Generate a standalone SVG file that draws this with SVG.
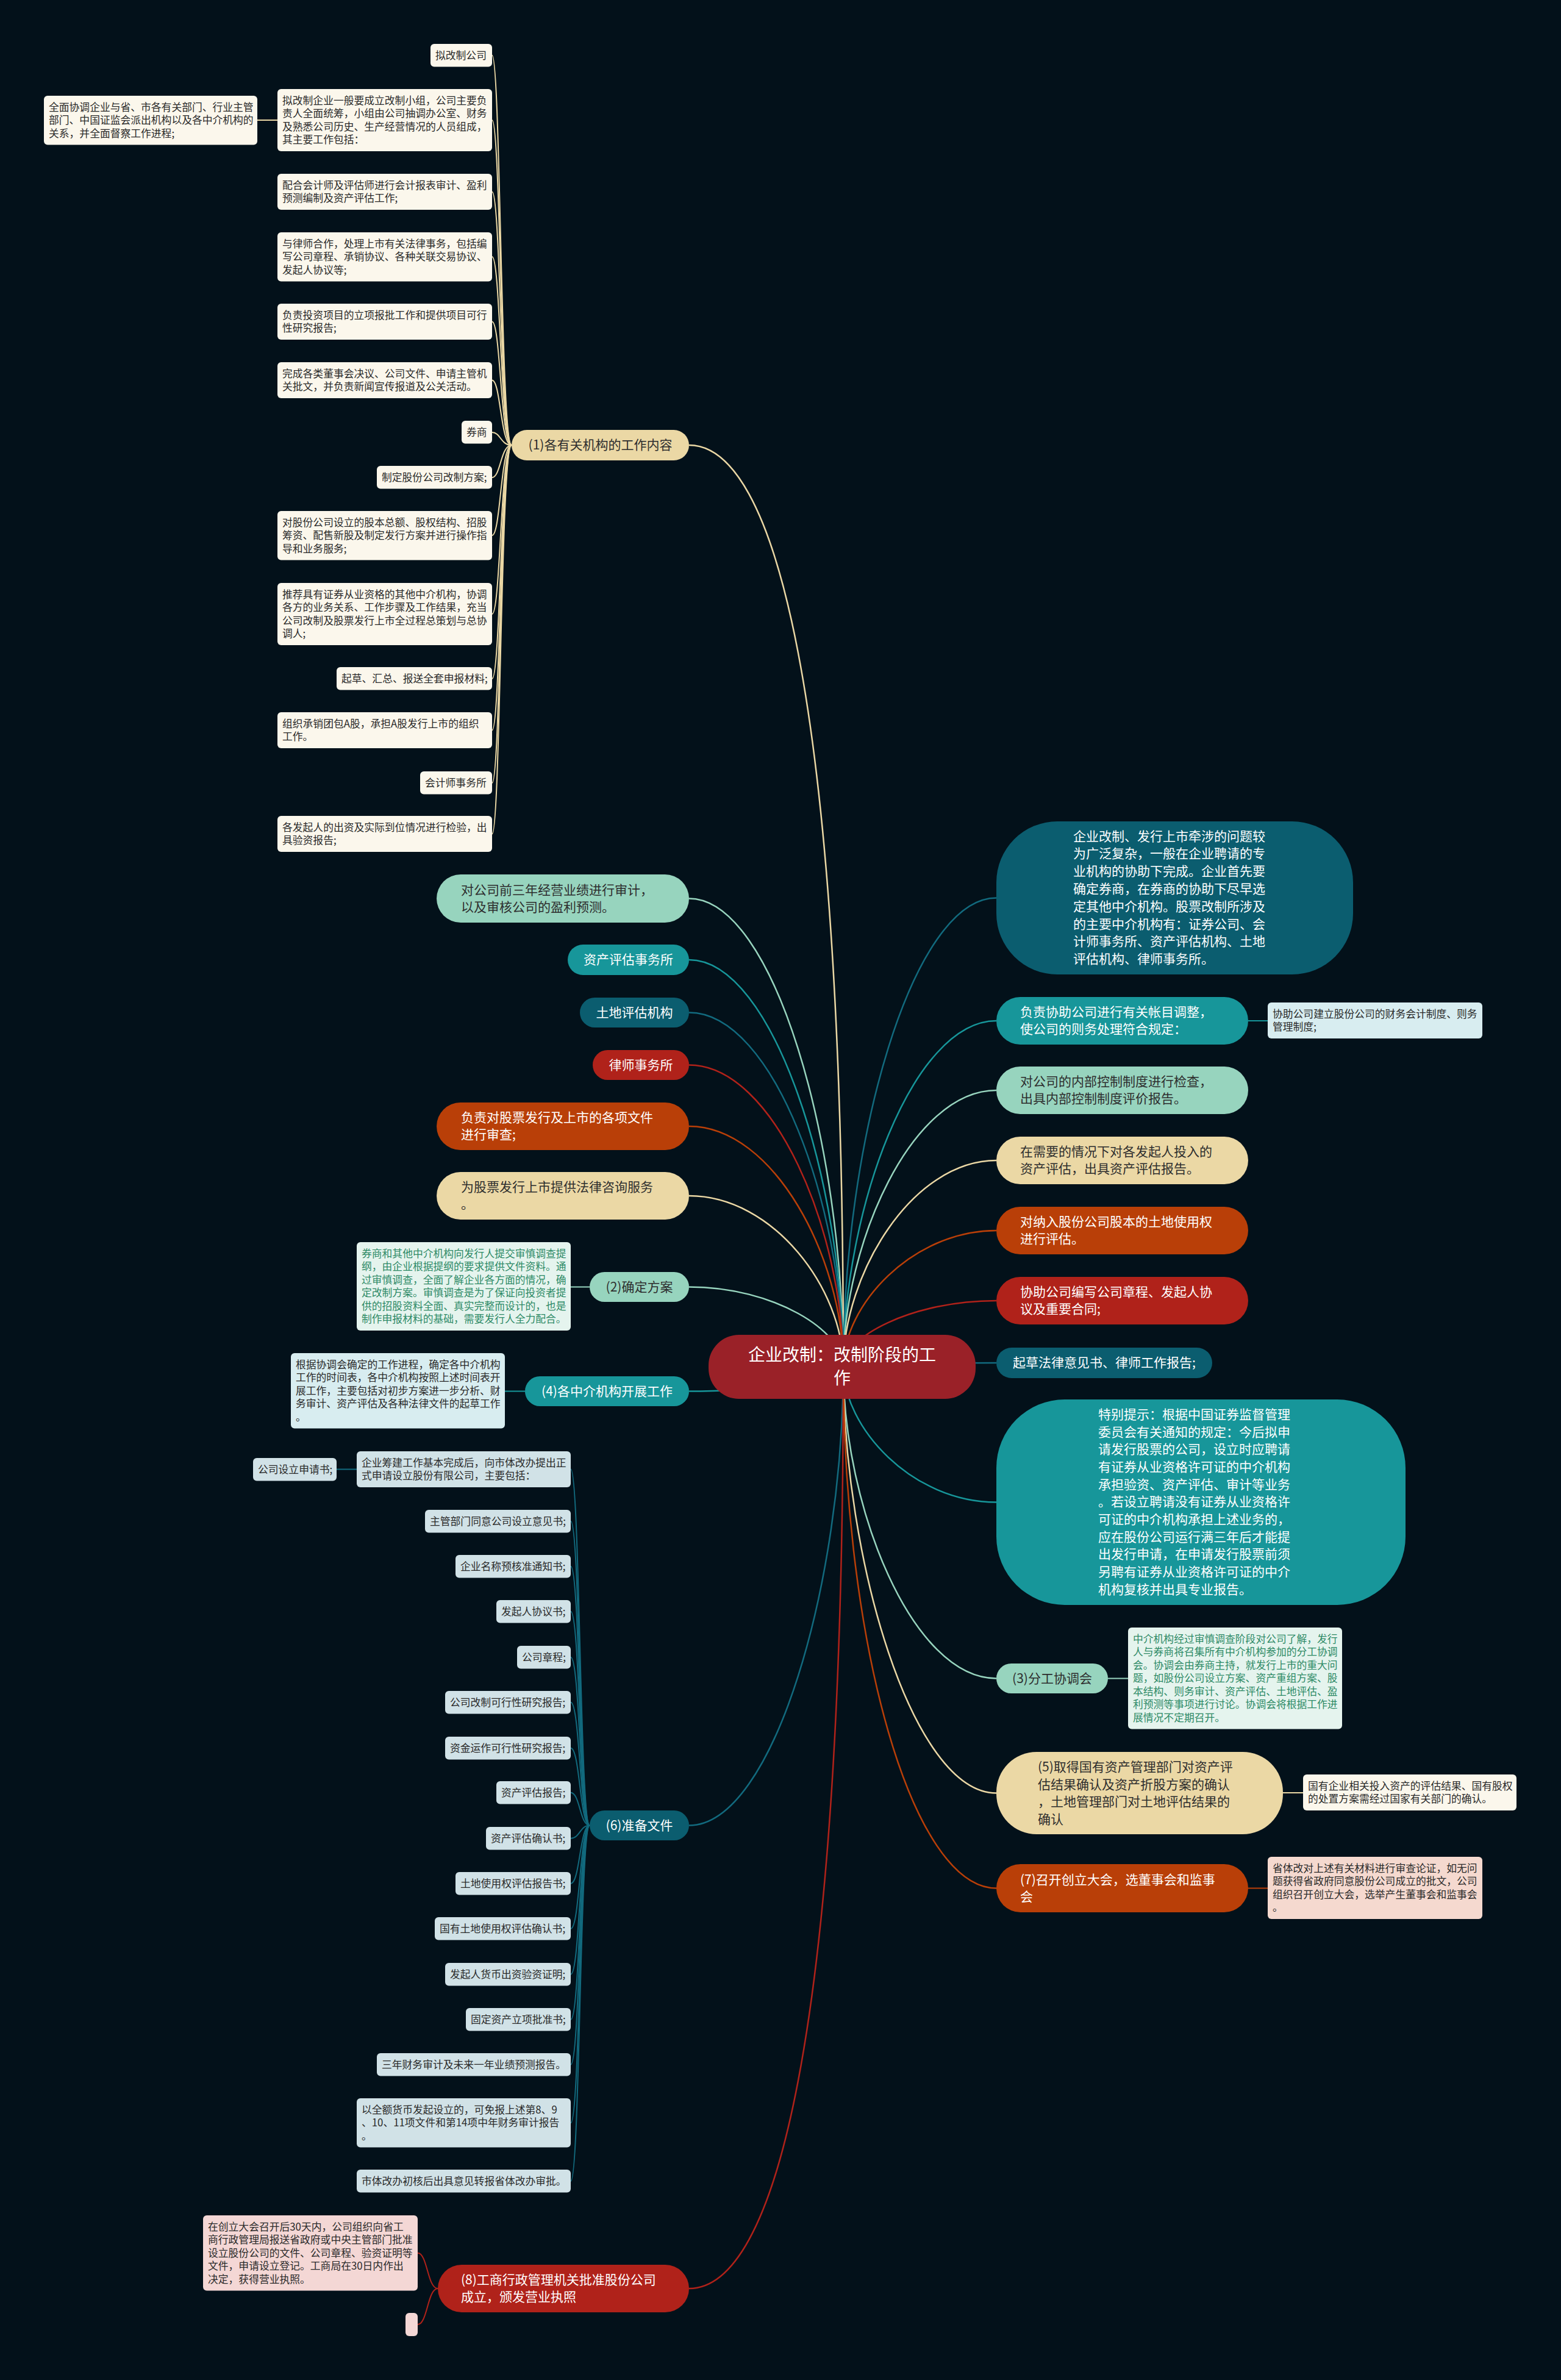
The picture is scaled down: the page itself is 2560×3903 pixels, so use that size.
<svg xmlns="http://www.w3.org/2000/svg" width="2560" height="3903" viewBox="0 0 2560 3903">
<style>
text{font-family:"Noto Sans CJK SC","Noto Sans",sans-serif;}
.lt{font-size:16.8px;fill:#2a2a2a;}
.gt{font-size:16.8px;fill:#2d8a66;}
.pd{font-size:21px;fill:#2e2e2e;}
.pw{font-size:21px;fill:#ffffff;}
.rt{font-size:28px;fill:#ffffff;}
.c{fill:none;stroke-width:2.5;}
.l{fill:none;stroke-width:2;}
.cream{fill:#fbf7ec;}
.lblue{fill:#d1e2e7;}
.lblue2{fill:#d8edf0;}
.lmint{fill:#e5f4ee;}
.pink{fill:#f5d9cf;}
.pink2{fill:#f4d7d5;}
.beige{fill:#ebd8a5;}
.mint{fill:#97d4be;}
.teal{fill:#17969a;}
.dteal{fill:#0b5d6f;}
.red{fill:#b0221a;}
.orng{fill:#b93f08;}
</style>
<rect x="0" y="0" width="2560" height="3903" fill="#03111a"/>

<g id="connectors">
<!-- root to left children -->
<path class="c" stroke="#ebd8a5" d="M1383 2241 C1383 1130 1269 730 1130 730"/>
<path class="c" stroke="#97d4be" d="M1383 2241 C1383 1873.5 1269 1473.5 1130 1473.5"/>
<path class="c" stroke="#17969a" d="M1383 2241 C1383 1941 1269 1574 1130 1574"/>
<path class="c" stroke="#126a7e" d="M1383 2241 C1383 1980 1269 1660.5 1130 1660.5"/>
<path class="c" stroke="#b0221a" d="M1383 2241 C1383 2018.5 1269 1746.5 1130 1746.5"/>
<path class="c" stroke="#b93f08" d="M1383 2241 C1383 2063.7 1269 1847 1130 1847"/>
<path class="c" stroke="#ebd8a5" d="M1383 2241 C1383 2115 1269 1961 1130 1961"/>
<path class="c" stroke="#97d4be" d="M1383 2241 C1383 2182.3 1269 2110.5 1130 2110.5"/>
<path class="c" stroke="#17969a" d="M1383 2241 C1383 2259.2 1269 2281.5 1130 2281.5"/>
<path class="c" stroke="#126a7e" d="M1383 2241 C1383 2593.5 1269 2993.5 1130 2993.5"/>
<path class="c" stroke="#b0221a" d="M1383 2241 C1383 3353 1269 3753 1130 3753"/>
<!-- root to right children -->
<path class="c" stroke="#126a7e" d="M1383 2241 C1383 1872.5 1496 1472.5 1634 1472.5"/>
<path class="c" stroke="#17969a" d="M1383 2241 C1383 1985.9 1496 1674 1634 1674"/>
<path class="c" stroke="#97d4be" d="M1383 2241 C1383 2037.2 1496 1788 1634 1788"/>
<path class="c" stroke="#ebd8a5" d="M1383 2241 C1383 2088.9 1496 1903 1634 1903"/>
<path class="c" stroke="#b93f08" d="M1383 2241 C1383 2140.7 1496 2018 1634 2018"/>
<path class="c" stroke="#b0221a" d="M1383 2241 C1383 2192.4 1496 2133 1634 2133"/>
<path class="c" stroke="#126a7e" d="M1383 2241 C1383 2238.3 1496 2235 1634 2235"/>
<path class="c" stroke="#17969a" d="M1383 2241 C1383 2341.1 1496 2463.5 1634 2463.5"/>
<path class="c" stroke="#97d4be" d="M1383 2241 C1383 2471.2 1496 2752.5 1634 2752.5"/>
<path class="c" stroke="#ebd8a5" d="M1383 2241 C1383 2555.8 1496 2940.5 1634 2940.5"/>
<path class="c" stroke="#b93f08" d="M1383 2241 C1383 2696.5 1496 3096.5 1634 3096.5"/>

<!-- (1) leaves -->
<g stroke="#ebd8a5">
<path class="l" d="M839 730 C821 730 821 90.75 807 90.75"/>
<path class="l" d="M839 730 C821 730 821 197 807 197"/>
<path class="l" d="M839 730 C821 730 821 314.5 807 314.5"/>
<path class="l" d="M839 730 C821 730 821 421 807 421"/>
<path class="l" d="M839 730 C821 730 821 527.5 807 527.5"/>
<path class="l" d="M839 730 C821 730 821 623.5 807 623.5"/>
<path class="l" d="M839 730 C821 730 821 709 807 709"/>
<path class="l" d="M839 730 C821 730 821 783 807 783"/>
<path class="l" d="M839 730 C821 730 821 878 807 878"/>
<path class="l" d="M839 730 C821 730 821 1007 807 1007"/>
<path class="l" d="M839 730 C821 730 821 1113 807 1113"/>
<path class="l" d="M839 730 C821 730 821 1197.5 807 1197.5"/>
<path class="l" d="M839 730 C821 730 821 1284 807 1284"/>
<path class="l" d="M839 730 C821 730 821 1367.5 807 1367.5"/>
<path class="l" d="M455 197 L422 197"/>
</g>
<!-- (6) leaves -->
<g stroke="#126a7e">
<path class="l" d="M967 2993.5 C951 2993.5 951 2409.5 936 2409.5"/>
<path class="l" d="M967 2993.5 C951 2993.5 951 2494.75 936 2494.75"/>
<path class="l" d="M967 2993.5 C951 2993.5 951 2568.75 936 2568.75"/>
<path class="l" d="M967 2993.5 C951 2993.5 951 2642.75 936 2642.75"/>
<path class="l" d="M967 2993.5 C951 2993.5 951 2717.75 936 2717.75"/>
<path class="l" d="M967 2993.5 C951 2993.5 951 2791.75 936 2791.75"/>
<path class="l" d="M967 2993.5 C951 2993.5 951 2866.75 936 2866.75"/>
<path class="l" d="M967 2993.5 C951 2993.5 951 2939.75 936 2939.75"/>
<path class="l" d="M967 2993.5 C951 2993.5 951 3014.75 936 3014.75"/>
<path class="l" d="M967 2993.5 C951 2993.5 951 3088.75 936 3088.75"/>
<path class="l" d="M967 2993.5 C951 2993.5 951 3162.75 936 3162.75"/>
<path class="l" d="M967 2993.5 C951 2993.5 951 3237.75 936 3237.75"/>
<path class="l" d="M967 2993.5 C951 2993.5 951 3311.75 936 3311.75"/>
<path class="l" d="M967 2993.5 C951 2993.5 951 3385.75 936 3385.75"/>
<path class="l" d="M967 2993.5 C951 2993.5 951 3481.25 936 3481.25"/>
<path class="l" d="M967 2993.5 C951 2993.5 951 3576.75 936 3576.75"/>
<path class="l" d="M585 2409.5 L552 2409.5"/>
</g>
<!-- other leaf links -->
<path class="l" stroke="#97d4be" d="M967 2110.5 L936 2110.5"/>
<path class="l" stroke="#17969a" d="M861 2281.5 L828 2281.5"/>
<path class="l" stroke="#b0221a" d="M718 3753 C701 3753 701 3694.75 685 3694.75"/>
<path class="l" stroke="#b0221a" d="M718 3753 C701 3753 701 3812 685 3812"/>
<path class="l" stroke="#17969a" d="M2047 1674 L2079 1674"/>
<path class="l" stroke="#97d4be" d="M1817 2752.5 L1850 2752.5"/>
<path class="l" stroke="#ebd8a5" d="M2104 2940 L2137 2940"/>
<path class="l" stroke="#b93f08" d="M2047 3096.5 L2079 3096.5"/>
</g>

<!-- root -->
<g id="root">
<rect x="1162" y="2189" width="438" height="105" rx="50" fill="#9a2128"/>
<text class="rt" text-anchor="middle"><tspan x="1381" y="2231.8">企业改制：改制阶段的工</tspan><tspan x="1381" y="2269.8">作</tspan></text>
</g>

<!-- (1) branch -->
<g id="n1">
<rect class="beige" x="839" y="705" width="291" height="50" rx="25"/>
<text class="pd" x="984.5" y="737.3" text-anchor="middle">(1)各有关机构的工作内容</text>
</g>
<g id="n1-1"><rect class="cream" x="706" y="72" width="101" height="37.5" rx="6"/><text class="lt" x="714" y="96.5">拟改制公司</text></g>
<g id="n1-2"><rect class="cream" x="455" y="146" width="352" height="102" rx="6"/><text class="lt"><tspan x="463" y="170.5">拟改制企业一般要成立改制小组，公司主要负</tspan><tspan x="463" y="192">责人全面统筹，小组由公司抽调办公室、财务</tspan><tspan x="463" y="213.5">及熟悉公司历史、生产经营情况的人员组成，</tspan><tspan x="463" y="235">其主要工作包括：</tspan></text></g>
<g id="n1-2-1"><rect class="cream" x="72" y="157" width="350" height="80.5" rx="6"/><text class="lt"><tspan x="80" y="181.5">全面协调企业与省、市各有关部门、行业主管</tspan><tspan x="80" y="203">部门、中国证监会派出机构以及各中介机构的</tspan><tspan x="80" y="224.5">关系，并全面督察工作进程;</tspan></text></g>
<g id="n1-3"><rect class="cream" x="455" y="285" width="352" height="59" rx="6"/><text class="lt"><tspan x="463" y="309.5">配合会计师及评估师进行会计报表审计、盈利</tspan><tspan x="463" y="331">预测编制及资产评估工作;</tspan></text></g>
<g id="n1-4"><rect class="cream" x="455" y="381" width="352" height="80.5" rx="6"/><text class="lt"><tspan x="463" y="405.5">与律师合作，处理上市有关法律事务，包括编</tspan><tspan x="463" y="427">写公司章程、承销协议、各种关联交易协议、</tspan><tspan x="463" y="448.5">发起人协议等;</tspan></text></g>
<g id="n1-5"><rect class="cream" x="455" y="498" width="352" height="59" rx="6"/><text class="lt"><tspan x="463" y="522.5">负责投资项目的立项报批工作和提供项目可行</tspan><tspan x="463" y="544">性研究报告;</tspan></text></g>
<g id="n1-6"><rect class="cream" x="455" y="594" width="352" height="59" rx="6"/><text class="lt"><tspan x="463" y="618.5">完成各类董事会决议、公司文件、申请主管机</tspan><tspan x="463" y="640">关批文，并负责新闻宣传报道及公关活动。</tspan></text></g>
<g id="n1-7"><rect class="cream" x="757" y="690" width="50" height="37.5" rx="6"/><text class="lt" x="765" y="714.5">券商</text></g>
<g id="n1-8"><rect class="cream" x="618" y="764" width="189" height="37.5" rx="6"/><text class="lt" x="626" y="788.5">制定股份公司改制方案;</text></g>
<g id="n1-9"><rect class="cream" x="455" y="838" width="352" height="80.5" rx="6"/><text class="lt"><tspan x="463" y="862.5">对股份公司设立的股本总额、股权结构、招股</tspan><tspan x="463" y="884">筹资、配售新股及制定发行方案并进行操作指</tspan><tspan x="463" y="905.5">导和业务服务;</tspan></text></g>
<g id="n1-10"><rect class="cream" x="455" y="956" width="352" height="102" rx="6"/><text class="lt"><tspan x="463" y="980.5">推荐具有证券从业资格的其他中介机构，协调</tspan><tspan x="463" y="1002">各方的业务关系、工作步骤及工作结果，充当</tspan><tspan x="463" y="1023.5">公司改制及股票发行上市全过程总策划与总协</tspan><tspan x="463" y="1045">调人;</tspan></text></g>
<g id="n1-11"><rect class="cream" x="552" y="1094" width="255" height="37.5" rx="6"/><text class="lt" x="560" y="1118.5">起草、汇总、报送全套申报材料;</text></g>
<g id="n1-12"><rect class="cream" x="455" y="1168" width="352" height="59" rx="6"/><text class="lt"><tspan x="463" y="1192.5">组织承销团包A股，承担A股发行上市的组织</tspan><tspan x="463" y="1214">工作。</tspan></text></g>
<g id="n1-13"><rect class="cream" x="689" y="1265" width="118" height="37.5" rx="6"/><text class="lt" x="697" y="1289.5">会计师事务所</text></g>
<g id="n1-14"><rect class="cream" x="455" y="1338" width="352" height="59" rx="6"/><text class="lt"><tspan x="463" y="1362.5">各发起人的出资及实际到位情况进行检验，出</tspan><tspan x="463" y="1384">具验资报告;</tspan></text></g>

<!-- left pills -->
<g id="l-audit"><rect class="mint" x="716" y="1434" width="414" height="79" rx="39.5"/><text class="pd"><tspan x="756" y="1466.8">对公司前三年经营业绩进行审计，</tspan><tspan x="756" y="1494.8">以及审核公司的盈利预测。</tspan></text></g>
<g id="l-asset"><rect class="teal" x="931" y="1549" width="199" height="50" rx="25"/><text class="pw" x="1030.5" y="1581.3" text-anchor="middle">资产评估事务所</text></g>
<g id="l-land"><rect class="dteal" x="951" y="1636" width="179" height="49" rx="24.5"/><text class="pw" x="1040.5" y="1667.8" text-anchor="middle">土地评估机构</text></g>
<g id="l-law"><rect class="red" x="972" y="1722" width="158" height="49" rx="24.5"/><text class="pw" x="1051" y="1753.8" text-anchor="middle">律师事务所</text></g>
<g id="l-review"><rect class="orng" x="716" y="1808" width="414" height="78" rx="39"/><text class="pw"><tspan x="756" y="1840.3">负责对股票发行及上市的各项文件</tspan><tspan x="756" y="1868.3">进行审查;</tspan></text></g>
<g id="l-legal"><rect class="beige" x="716" y="1922" width="414" height="78" rx="39"/><text class="pd"><tspan x="756" y="1954.3">为股票发行上市提供法律咨询服务</tspan><tspan x="756" y="1982.3">。</tspan></text></g>
<g id="n2"><rect class="mint" x="967" y="2086" width="163" height="49" rx="24.5"/><text class="pd" x="1048.5" y="2117.8" text-anchor="middle">(2)确定方案</text></g>
<g id="n2-1"><rect class="lmint" x="585" y="2037" width="351" height="145" rx="6"/><text class="gt"><tspan x="593" y="2061.5">券商和其他中介机构向发行人提交审慎调查提</tspan><tspan x="593" y="2083">纲，由企业根据提纲的要求提供文件资料。通</tspan><tspan x="593" y="2104.5">过审慎调查，全面了解企业各方面的情况，确</tspan><tspan x="593" y="2126">定改制方案。审慎调查是为了保证向投资者提</tspan><tspan x="593" y="2147.5">供的招股资料全面、真实完整而设计的，也是</tspan><tspan x="593" y="2169">制作申报材料的基础，需要发行人全力配合。</tspan></text></g>
<g id="n4"><rect class="teal" x="861" y="2257" width="269" height="49" rx="24.5"/><text class="pw" x="995.5" y="2288.8" text-anchor="middle">(4)各中介机构开展工作</text></g>
<g id="n4-1"><rect class="lblue2" x="477" y="2219" width="351" height="123.5" rx="6"/><text class="lt"><tspan x="485" y="2243.5">根据协调会确定的工作进程，确定各中介机构</tspan><tspan x="485" y="2265">工作的时间表，各中介机构按照上述时间表开</tspan><tspan x="485" y="2286.5">展工作，主要包括对初步方案进一步分析、财</tspan><tspan x="485" y="2308">务审计、资产评估及各种法律文件的起草工作</tspan><tspan x="485" y="2329.5">。</tspan></text></g>

<!-- (6) branch -->
<g id="n6"><rect class="dteal" x="967" y="2969" width="163" height="49" rx="24.5"/><text class="pw" x="1048.5" y="3000.8" text-anchor="middle">(6)准备文件</text></g>
<g id="n6-1"><rect class="lblue" x="585" y="2380" width="351" height="59" rx="6"/><text class="lt"><tspan x="593" y="2404.5">企业筹建工作基本完成后，向市体改办提出正</tspan><tspan x="593" y="2426">式申请设立股份有限公司，主要包括：</tspan></text></g>
<g id="n6-1-1"><rect class="lblue" x="415" y="2391" width="137" height="37.5" rx="6"/><text class="lt" x="423" y="2415.5">公司设立申请书;</text></g>
<g id="n6-2"><rect class="lblue" x="697" y="2476" width="239" height="37.5" rx="6"/><text class="lt" x="705" y="2500.5">主管部门同意公司设立意见书;</text></g>
<g id="n6-3"><rect class="lblue" x="747" y="2550" width="189" height="37.5" rx="6"/><text class="lt" x="755" y="2574.5">企业名称预核准通知书;</text></g>
<g id="n6-4"><rect class="lblue" x="814" y="2624" width="122" height="37.5" rx="6"/><text class="lt" x="822" y="2648.5">发起人协议书;</text></g>
<g id="n6-5"><rect class="lblue" x="848" y="2699" width="88" height="37.5" rx="6"/><text class="lt" x="856" y="2723.5">公司章程;</text></g>
<g id="n6-6"><rect class="lblue" x="730" y="2773" width="206" height="37.5" rx="6"/><text class="lt" x="738" y="2797.5">公司改制可行性研究报告;</text></g>
<g id="n6-7"><rect class="lblue" x="730" y="2848" width="206" height="37.5" rx="6"/><text class="lt" x="738" y="2872.5">资金运作可行性研究报告;</text></g>
<g id="n6-8"><rect class="lblue" x="814" y="2921" width="122" height="37.5" rx="6"/><text class="lt" x="822" y="2945.5">资产评估报告;</text></g>
<g id="n6-9"><rect class="lblue" x="797" y="2996" width="139" height="37.5" rx="6"/><text class="lt" x="805" y="3020.5">资产评估确认书;</text></g>
<g id="n6-10"><rect class="lblue" x="747" y="3070" width="189" height="37.5" rx="6"/><text class="lt" x="755" y="3094.5">土地使用权评估报告书;</text></g>
<g id="n6-11"><rect class="lblue" x="713" y="3144" width="223" height="37.5" rx="6"/><text class="lt" x="721" y="3168.5">国有土地使用权评估确认书;</text></g>
<g id="n6-12"><rect class="lblue" x="730" y="3219" width="206" height="37.5" rx="6"/><text class="lt" x="738" y="3243.5">发起人货币出资验资证明;</text></g>
<g id="n6-13"><rect class="lblue" x="764" y="3293" width="172" height="37.5" rx="6"/><text class="lt" x="772" y="3317.5">固定资产立项批准书;</text></g>
<g id="n6-14"><rect class="lblue" x="618" y="3367" width="318" height="37.5" rx="6"/><text class="lt" x="626" y="3391.5">三年财务审计及未来一年业绩预测报告。</text></g>
<g id="n6-15"><rect class="lblue" x="585" y="3441" width="351" height="80.5" rx="6"/><text class="lt"><tspan x="593" y="3465.5">以全额货币发起设立的，可免报上述第8、9</tspan><tspan x="593" y="3487">、10、11项文件和第14项中年财务审计报告</tspan><tspan x="593" y="3508.5">。</tspan></text></g>
<g id="n6-16"><rect class="lblue" x="585" y="3558" width="351" height="37.5" rx="6"/><text class="lt" x="593" y="3582.5">市体改办初核后出具意见转报省体改办审批。</text></g>

<!-- (8) branch -->
<g id="n8"><rect class="red" x="718" y="3714" width="412" height="78" rx="39"/><text class="pw"><tspan x="756" y="3746.3">(8)工商行政管理机关批准股份公司</tspan><tspan x="756" y="3774.3">成立，颁发营业执照</tspan></text></g>
<g id="n8-1"><rect class="pink2" x="333" y="3633" width="352" height="123.5" rx="6"/><text class="lt"><tspan x="341" y="3657.5">在创立大会召开后30天内，公司组织向省工</tspan><tspan x="341" y="3679">商行政管理局报送省政府或中央主管部门批准</tspan><tspan x="341" y="3700.5">设立股份公司的文件、公司章程、验资证明等</tspan><tspan x="341" y="3722">文件，申请设立登记。工商局在30日内作出</tspan><tspan x="341" y="3743.5">决定，获得营业执照。</tspan></text></g>
<g id="n8-2"><rect class="pink2" x="665" y="3793" width="20" height="38" rx="6"/></g>

<!-- right side -->
<g id="r-intro"><rect class="dteal" x="1634" y="1347" width="585" height="251" rx="100"/><text class="pw"><tspan x="1760" y="1378.5">企业改制、发行上市牵涉的问题较</tspan><tspan x="1760" y="1407.3">为广泛复杂，一般在企业聘请的专</tspan><tspan x="1760" y="1436.1">业机构的协助下完成。企业首先要</tspan><tspan x="1760" y="1464.9">确定券商，在券商的协助下尽早选</tspan><tspan x="1760" y="1493.7">定其他中介机构。股票改制所涉及</tspan><tspan x="1760" y="1522.5">的主要中介机构有：证券公司、会</tspan><tspan x="1760" y="1551.3">计师事务所、资产评估机构、土地</tspan><tspan x="1760" y="1580.1">评估机构、律师事务所。</tspan></text></g>
<g id="r-acct"><rect class="teal" x="1634" y="1635" width="413" height="78" rx="39"/><text class="pw"><tspan x="1673" y="1667.3">负责协助公司进行有关帐目调整，</tspan><tspan x="1673" y="1695.3">使公司的则务处理符合规定：</tspan></text></g>
<g id="r-acct-1"><rect class="lblue2" x="2079" y="1644" width="352" height="59" rx="6"/><text class="lt"><tspan x="2087" y="1668.5">协助公司建立股份公司的财务会计制度、则务</tspan><tspan x="2087" y="1690">管理制度;</tspan></text></g>
<g id="r-ctrl"><rect class="mint" x="1634" y="1749" width="413" height="78" rx="39"/><text class="pd"><tspan x="1673" y="1781.3">对公司的内部控制制度进行检查，</tspan><tspan x="1673" y="1809.3">出具内部控制制度评价报告。</tspan></text></g>
<g id="r-eval"><rect class="beige" x="1634" y="1864" width="413" height="78" rx="39"/><text class="pd"><tspan x="1673" y="1896.3">在需要的情况下对各发起人投入的</tspan><tspan x="1673" y="1924.3">资产评估，出具资产评估报告。</tspan></text></g>
<g id="r-land"><rect class="orng" x="1634" y="1979" width="413" height="78" rx="39"/><text class="pw"><tspan x="1673" y="2011.3">对纳入股份公司股本的土地使用权</tspan><tspan x="1673" y="2039.3">进行评估。</tspan></text></g>
<g id="r-charter"><rect class="red" x="1634" y="2094" width="413" height="78" rx="39"/><text class="pw"><tspan x="1673" y="2126.3">协助公司编写公司章程、发起人协</tspan><tspan x="1673" y="2154.3">议及重要合同;</tspan></text></g>
<g id="r-opinion"><rect class="dteal" x="1634" y="2210" width="354" height="50" rx="25"/><text class="pw" x="1811" y="2242.3" text-anchor="middle">起草法律意见书、律师工作报告;</text></g>
<g id="r-note"><rect class="teal" x="1634" y="2295" width="671" height="337" rx="112"/><text class="pw"><tspan x="1801" y="2326.8">特别提示：根据中国证券监督管理</tspan><tspan x="1801" y="2355.5">委员会有关通知的规定：今后拟申</tspan><tspan x="1801" y="2384.2">请发行股票的公司，设立时应聘请</tspan><tspan x="1801" y="2412.9">有证券从业资格许可证的中介机构</tspan><tspan x="1801" y="2441.6">承担验资、资产评估、审计等业务</tspan><tspan x="1801" y="2470.3">。若设立聘请没有证券从业资格许</tspan><tspan x="1801" y="2499">可证的中介机构承担上述业务的，</tspan><tspan x="1801" y="2527.7">应在股份公司运行满三年后才能提</tspan><tspan x="1801" y="2556.4">出发行申请，在申请发行股票前须</tspan><tspan x="1801" y="2585.1">另聘有证券从业资格许可证的中介</tspan><tspan x="1801" y="2613.8">机构复核并出具专业报告。</tspan></text></g>
<g id="n3"><rect class="mint" x="1634" y="2728" width="183" height="49" rx="24.5"/><text class="pd" x="1725.5" y="2759.8" text-anchor="middle">(3)分工协调会</text></g>
<g id="n3-1"><rect class="lmint" x="1850" y="2669" width="351" height="166.5" rx="6"/><text class="gt"><tspan x="1858" y="2693.5">中介机构经过审慎调查阶段对公司了解，发行</tspan><tspan x="1858" y="2715">人与券商将召集所有中介机构参加的分工协调</tspan><tspan x="1858" y="2736.5">会。协调会由券商主持，就发行上市的重大问</tspan><tspan x="1858" y="2758">题，如股份公司设立方案、资产重组方案、股</tspan><tspan x="1858" y="2779.5">本结构、则务审计、资产评估、土地评估、盈</tspan><tspan x="1858" y="2801">利预测等事项进行讨论。协调会将根据工作进</tspan><tspan x="1858" y="2822.5">展情况不定期召开。</tspan></text></g>
<g id="n5"><rect class="beige" x="1634" y="2873" width="470" height="135" rx="66"/><text class="pd"><tspan x="1702" y="2904.8">(5)取得国有资产管理部门对资产评</tspan><tspan x="1702" y="2933.5">估结果确认及资产折股方案的确认</tspan><tspan x="1702" y="2962.2">，土地管理部门对土地评估结果的</tspan><tspan x="1702" y="2990.9">确认</tspan></text></g>
<g id="n5-1"><rect class="cream" x="2137" y="2910" width="350" height="59" rx="6"/><text class="lt"><tspan x="2145" y="2934.5">国有企业相关投入资产的评估结果、国有股权</tspan><tspan x="2145" y="2956">的处置方案需经过国家有关部门的确认。</tspan></text></g>
<g id="n7"><rect class="orng" x="1634" y="3057" width="413" height="79" rx="39.5"/><text class="pw"><tspan x="1673" y="3089.8">(7)召开创立大会，选董事会和监事</tspan><tspan x="1673" y="3117.8">会</tspan></text></g>
<g id="n7-1"><rect class="pink" x="2079" y="3045" width="352" height="102" rx="6"/><text class="lt"><tspan x="2087" y="3069.5">省体改对上述有关材料进行审查论证，如无问</tspan><tspan x="2087" y="3091">题获得省政府同意股份公司成立的批文，公司</tspan><tspan x="2087" y="3112.5">组织召开创立大会，选举产生董事会和监事会</tspan><tspan x="2087" y="3134">。</tspan></text></g>
</svg>
